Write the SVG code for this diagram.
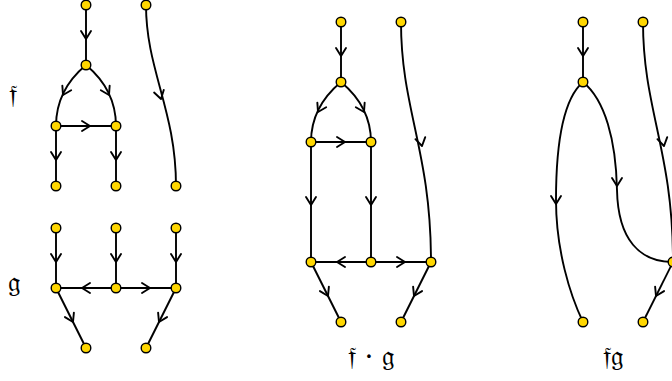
<svg xmlns="http://www.w3.org/2000/svg" xmlns:xlink="http://www.w3.org/1999/xlink" width="672" height="381" viewBox="0 0 672 381">
<style>
.e{fill:none;stroke:#000;stroke-width:1.9}
.a{fill:none;stroke:#000;stroke-width:1.9;stroke-linecap:round;stroke-linejoin:round}
.n{fill:#FFD700;stroke:#000;stroke-width:1.4}
.l{font-family:"DejaVu Serif","Noto Sans",serif;font-size:28px;fill:#000;text-anchor:middle}
</style>
<defs>
<path id="ar" class="a" d="M-5,-8 L0,0 L5,-8"/>
</defs>
<g id="connectors">
<!-- f -->
<path class="e" d="M86,5 L86,65"/>
<path class="e" d="M86,65 C68,80 56,100 56,126"/>
<path class="e" d="M86,65 C104,80 116,100 116,126"/>
<path class="e" d="M56,126 L116,126"/>
<path class="e" d="M56,126 L56,186"/>
<path class="e" d="M116,126 L116,186"/>
<path class="e" d="M146,5 C146,70 176,110 176,186"/>
<use xlink:href="#ar" transform="translate(86,39)"/>
<use xlink:href="#ar" transform="translate(63,95) rotate(28)"/>
<use xlink:href="#ar" transform="translate(109,95) rotate(-28)"/>
<use xlink:href="#ar" transform="translate(90,126) rotate(-90)"/>
<use xlink:href="#ar" transform="translate(56,160)"/>
<use xlink:href="#ar" transform="translate(116,160)"/>
<use xlink:href="#ar" transform="translate(161,99) rotate(-15)"/>
<!-- g -->
<path class="e" d="M56,228 L56,288"/>
<path class="e" d="M116,228 L116,288"/>
<path class="e" d="M176,228 L176,288"/>
<path class="e" d="M56,288 L176,288"/>
<path class="e" d="M56,288 L86,348"/>
<path class="e" d="M176,288 L146,348"/>
<use xlink:href="#ar" transform="translate(56,262)"/>
<use xlink:href="#ar" transform="translate(116,262)"/>
<use xlink:href="#ar" transform="translate(176,262)"/>
<use xlink:href="#ar" transform="translate(82,288) rotate(90)"/>
<use xlink:href="#ar" transform="translate(150,288) rotate(-90)"/>
<use xlink:href="#ar" transform="translate(73,322) rotate(-26.6)"/>
<use xlink:href="#ar" transform="translate(159,322) rotate(26.6)"/>
<!-- f.g -->
<path class="e" d="M341,22 L341,82"/>
<path class="e" d="M341,82 C323,97 311,117 311,142"/>
<path class="e" d="M341,82 C359,97 371,117 371,142"/>
<path class="e" d="M311,142 L371,142"/>
<path class="e" d="M311,142 L311,262"/>
<path class="e" d="M371,142 L371,262"/>
<path class="e" d="M311,262 L431,262"/>
<path class="e" d="M311,262 L341,322"/>
<path class="e" d="M431,262 L401,322"/>
<path class="e" d="M401,22 C401,110 431,150 431,262"/>
<use xlink:href="#ar" transform="translate(341,56)"/>
<use xlink:href="#ar" transform="translate(318,112) rotate(28)"/>
<use xlink:href="#ar" transform="translate(364,112) rotate(-28)"/>
<use xlink:href="#ar" transform="translate(345,142) rotate(-90)"/>
<use xlink:href="#ar" transform="translate(311,205)"/>
<use xlink:href="#ar" transform="translate(371,205)"/>
<use xlink:href="#ar" transform="translate(337,262) rotate(90)"/>
<use xlink:href="#ar" transform="translate(405,262) rotate(-90)"/>
<use xlink:href="#ar" transform="translate(328,296) rotate(-26.6)"/>
<use xlink:href="#ar" transform="translate(414,296) rotate(26.6)"/>
<use xlink:href="#ar" transform="translate(422,146) rotate(-12)"/>
<!-- fg -->
<path class="e" d="M583,22 L583,82"/>
<path class="e" d="M583,82 C562,100 556,150 556,200 C556,250 570,295 583,322"/>
<path class="e" d="M583,82 C605,100 616,140 617,190 C618,240 640,262 673,262"/>
<path class="e" d="M643,22 C643,110 673,150 673,262"/>
<path class="e" d="M673,262 L643,322"/>
<use xlink:href="#ar" transform="translate(583,56)"/>
<use xlink:href="#ar" transform="translate(556,204)"/>
<use xlink:href="#ar" transform="translate(617,186)"/>
<use xlink:href="#ar" transform="translate(664,146) rotate(-12)"/>
<use xlink:href="#ar" transform="translate(656,296) rotate(26.6)"/>
</g>
<g id="nodes">
<circle class="n" cx="86" cy="5" r="4.8"/>
<circle class="n" cx="146" cy="5" r="4.8"/>
<circle class="n" cx="86" cy="65" r="4.8"/>
<circle class="n" cx="56" cy="126" r="4.8"/>
<circle class="n" cx="116" cy="126" r="4.8"/>
<circle class="n" cx="56" cy="186" r="4.8"/>
<circle class="n" cx="116" cy="186" r="4.8"/>
<circle class="n" cx="176" cy="186" r="4.8"/>
<circle class="n" cx="56" cy="228" r="4.8"/>
<circle class="n" cx="116" cy="228" r="4.8"/>
<circle class="n" cx="176" cy="228" r="4.8"/>
<circle class="n" cx="56" cy="288" r="4.8"/>
<circle class="n" cx="116" cy="288" r="4.8"/>
<circle class="n" cx="176" cy="288" r="4.8"/>
<circle class="n" cx="86" cy="348" r="4.8"/>
<circle class="n" cx="146" cy="348" r="4.8"/>
<circle class="n" cx="341" cy="22" r="4.8"/>
<circle class="n" cx="401" cy="22" r="4.8"/>
<circle class="n" cx="341" cy="82" r="4.8"/>
<circle class="n" cx="311" cy="142" r="4.8"/>
<circle class="n" cx="371" cy="142" r="4.8"/>
<circle class="n" cx="311" cy="262" r="4.8"/>
<circle class="n" cx="371" cy="262" r="4.8"/>
<circle class="n" cx="431" cy="262" r="4.8"/>
<circle class="n" cx="341" cy="322" r="4.8"/>
<circle class="n" cx="401" cy="322" r="4.8"/>
<circle class="n" cx="583" cy="22" r="4.8"/>
<circle class="n" cx="643" cy="22" r="4.8"/>
<circle class="n" cx="583" cy="82" r="4.8"/>
<circle class="n" cx="673" cy="262" r="4.8"/>
<circle class="n" cx="583" cy="322" r="4.8"/>
<circle class="n" cx="643" cy="322" r="4.8"/>
</g>
<g id="labels">
<text class="l" x="13" y="104">𝔣</text>
<text class="l" x="14" y="292">𝔤</text>
<text class="l" x="371" y="366">𝔣 · 𝔤</text>
<text class="l" x="613" y="366">𝔣𝔤</text>
</g>
</svg>
